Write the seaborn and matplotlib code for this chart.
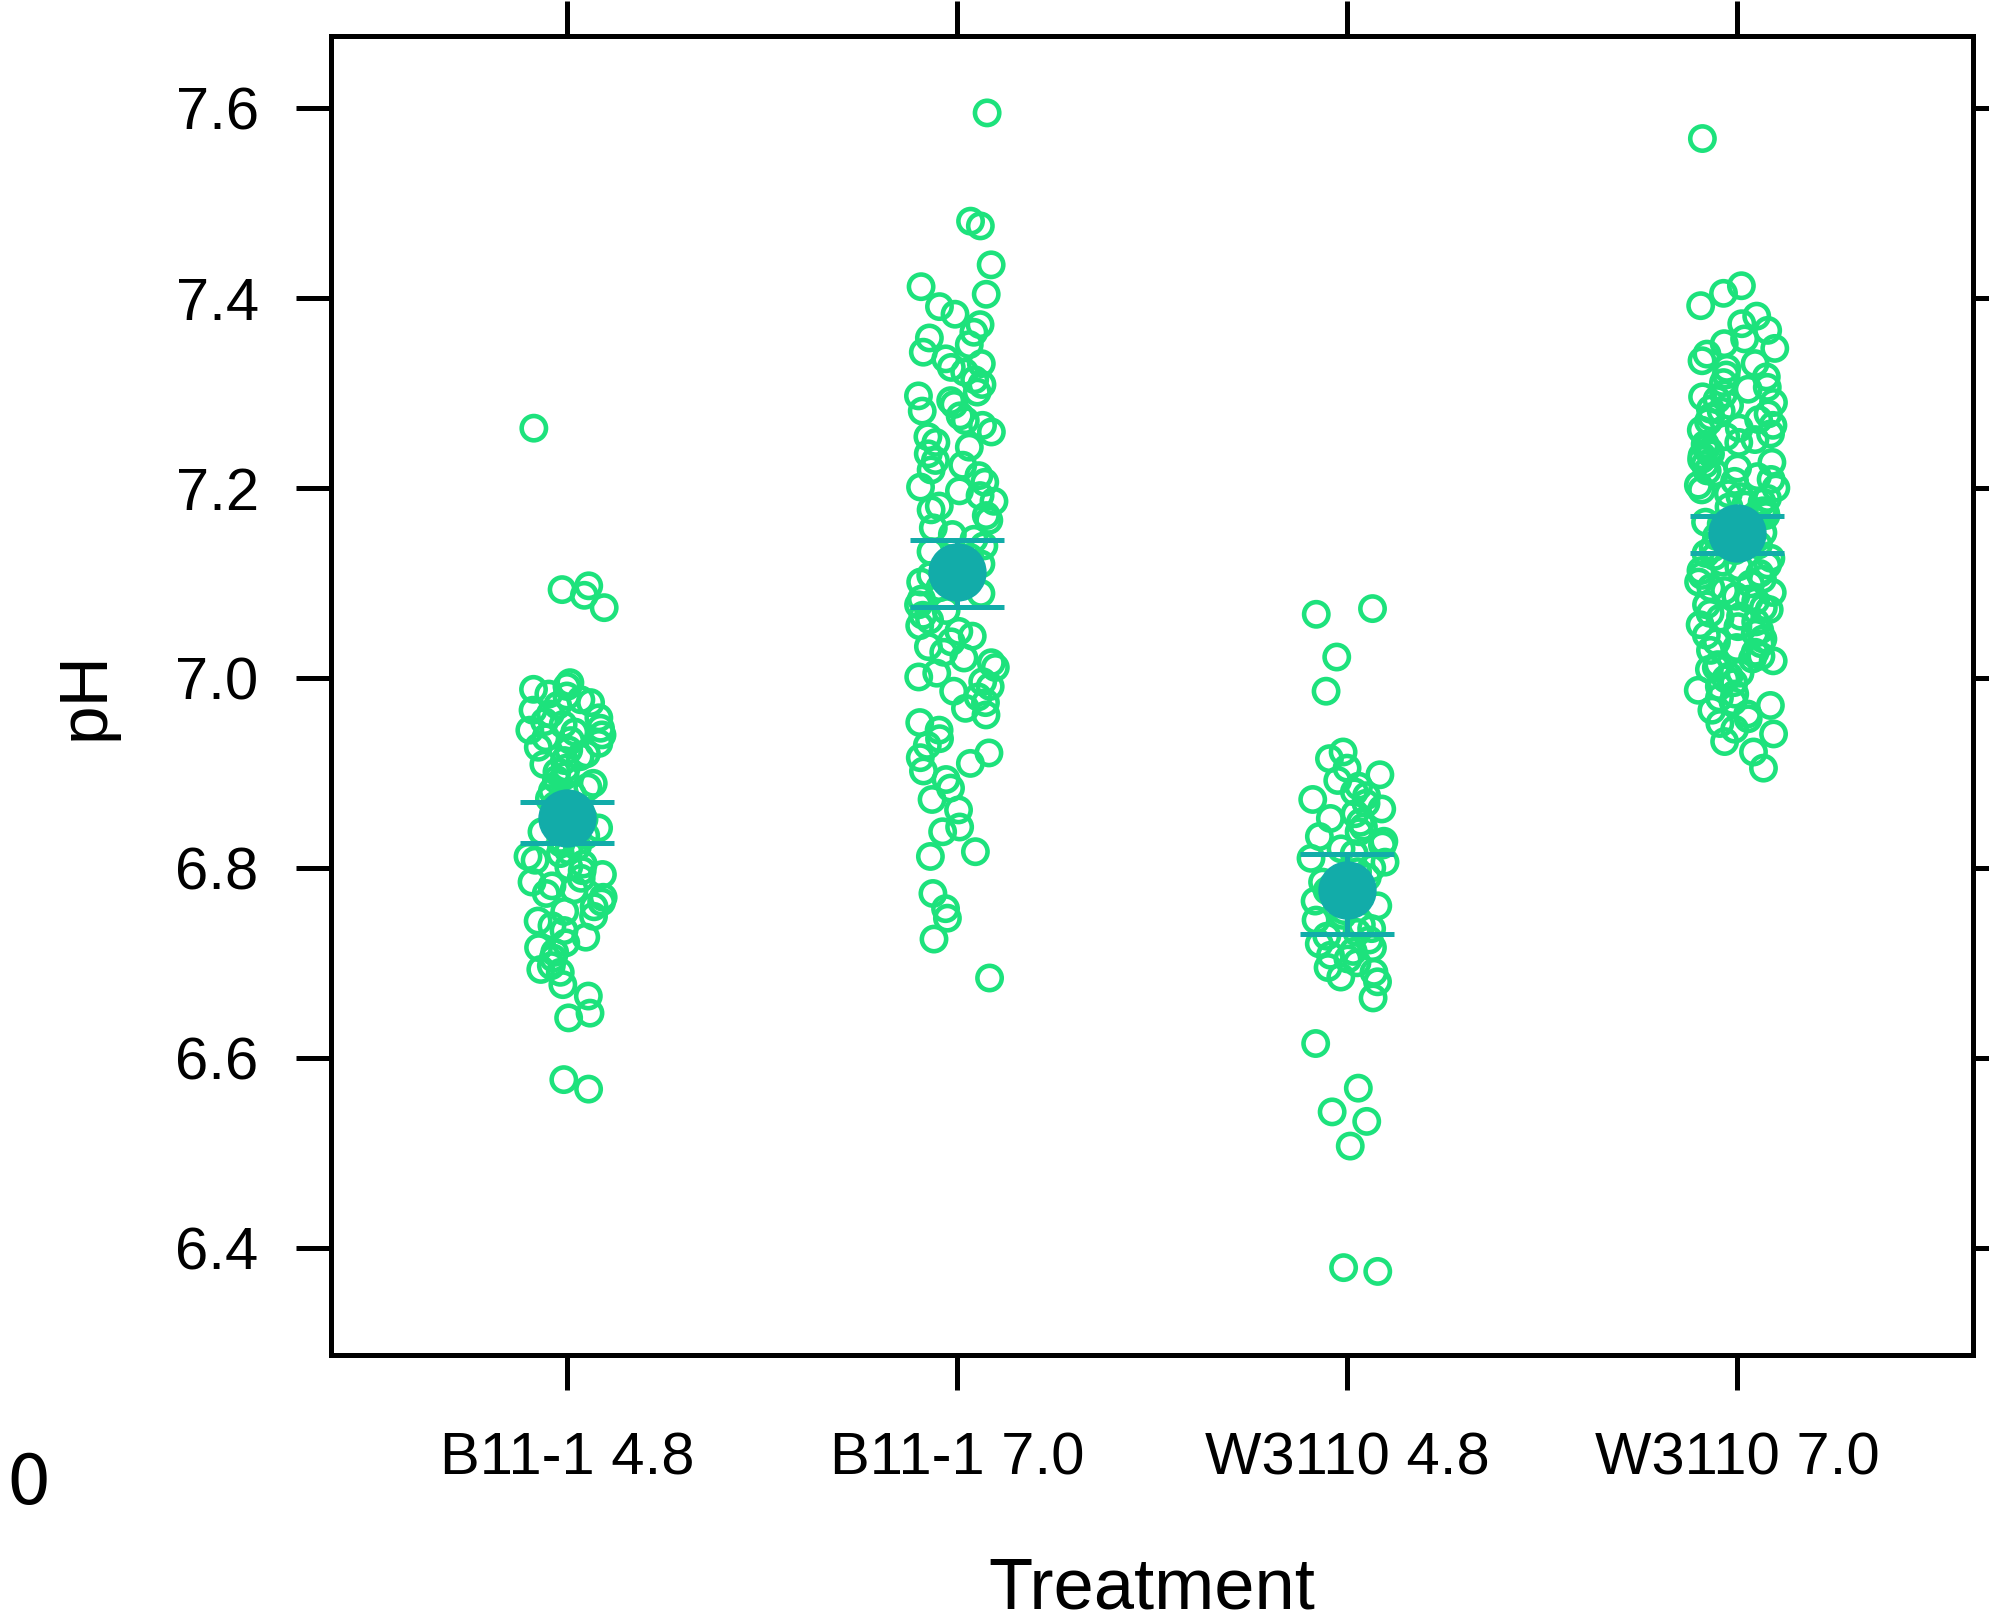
import numpy as np
import pandas as pd
import matplotlib
matplotlib.use("Agg")
import matplotlib.pyplot as plt
import seaborn as sns

# Data
treatments = ["B11-1 4.8", "B11-1 7.0", "W3110 4.8", "W3110 7.0"]

ph_b11_48 = [7.263, 7.097, 7.093, 7.087, 7.074,
             6.995, 6.991, 6.988, 6.983, 6.981, 6.977, 6.974, 6.971, 6.966, 6.962,
             6.958, 6.954, 6.951, 6.947, 6.945, 6.943, 6.940, 6.937, 6.934, 6.931,
             6.927, 6.924, 6.920, 6.917, 6.913, 6.909, 6.905, 6.901, 6.897, 6.893,
             6.889, 6.885, 6.881, 6.877, 6.873, 6.869, 6.866, 6.861, 6.858, 6.855,
             6.851, 6.846, 6.842, 6.838, 6.834, 6.830, 6.826, 6.822, 6.818, 6.815,
             6.812, 6.808, 6.804, 6.801, 6.797, 6.793, 6.789, 6.785, 6.781, 6.777,
             6.773, 6.769, 6.764, 6.759, 6.754, 6.749, 6.744, 6.739, 6.734, 6.727,
             6.721, 6.716, 6.711, 6.705,
             6.697, 6.693, 6.690, 6.677, 6.665, 6.647, 6.642, 6.577, 6.567]

ph_b11_70 = [7.595, 7.481, 7.476, 7.435, 7.412, 7.404, 7.391, 7.383, 7.372, 7.364,
             7.358, 7.351, 7.343, 7.336, 7.331, 7.327, 7.322, 7.314, 7.309, 7.301,
             7.297, 7.292, 7.288, 7.281, 7.276, 7.271, 7.266, 7.259, 7.254, 7.248,
             7.243, 7.236, 7.229, 7.224, 7.219, 7.213, 7.206, 7.201, 7.197, 7.192,
             7.186, 7.181, 7.177, 7.171, 7.166, 7.158, 7.151, 7.146, 7.139, 7.133,
             7.127, 7.120, 7.114, 7.108, 7.101, 7.095, 7.089, 7.083, 7.077, 7.071,
             7.066, 7.061, 7.055, 7.049, 7.044, 7.038, 7.033, 7.027, 7.021, 7.016,
             7.011, 7.005, 7.001, 6.996, 6.991, 6.986, 6.980, 6.974, 6.968, 6.961,
             6.953, 6.945, 6.936, 6.929, 6.921, 6.916, 6.910, 6.902, 6.893, 6.884,
             6.872, 6.861, 6.843, 6.838, 6.817, 6.812, 6.773, 6.757, 6.747, 6.725,
             6.684]

ph_w3110_48 = [7.073, 7.067, 7.022, 6.986, 6.922, 6.915, 6.905, 6.898, 6.892, 6.886,
               6.880, 6.876, 6.872, 6.868, 6.862, 6.857, 6.852, 6.848, 6.843, 6.838,
               6.833, 6.828, 6.824, 6.820, 6.815, 6.810, 6.806, 6.800, 6.796, 6.790,
               6.785, 6.780, 6.776, 6.770, 6.765, 6.760, 6.755, 6.750, 6.745, 6.740,
               6.736, 6.732, 6.728, 6.724, 6.720, 6.716, 6.712, 6.708, 6.704, 6.700,
               6.695, 6.690, 6.685, 6.680, 6.663, 6.615, 6.568, 6.543, 6.533, 6.507,
               6.379, 6.375]

ph_w3110_70 = [7.568, 7.413, 7.405, 7.392, 7.381, 7.373, 7.366, 7.357, 7.352, 7.347,
               7.341, 7.334, 7.331, 7.326, 7.319, 7.317, 7.311, 7.306, 7.304, 7.299,
               7.296, 7.293, 7.290, 7.287, 7.283, 7.281, 7.278, 7.275, 7.272, 7.270,
               7.266, 7.263, 7.261, 7.257, 7.254, 7.251, 7.248, 7.246, 7.242, 7.239,
               7.236, 7.234, 7.230, 7.227, 7.225, 7.221, 7.218, 7.216, 7.212, 7.209,
               7.207, 7.203, 7.200, 7.198, 7.194, 7.191, 7.189, 7.185, 7.182, 7.180,
               7.176, 7.173, 7.171, 7.167, 7.164, 7.162, 7.158, 7.155, 7.153, 7.149,
               7.146, 7.143, 7.140, 7.137, 7.134, 7.131, 7.128, 7.126, 7.122, 7.119,
               7.117, 7.113, 7.110, 7.108, 7.104, 7.101, 7.099, 7.095, 7.092, 7.090,
               7.086, 7.083, 7.081, 7.077, 7.074, 7.072, 7.068, 7.065, 7.063, 7.059,
               7.056, 7.054, 7.050, 7.047, 7.045, 7.041, 7.038, 7.036, 7.032, 7.029,
               7.027, 7.023, 7.020, 7.018, 7.014, 7.011, 7.009, 7.005, 7.002, 6.999,
               6.995, 6.991, 6.987, 6.983, 6.979, 6.975, 6.971, 6.966, 6.962, 6.957,
               6.952, 6.946, 6.941, 6.933, 6.922, 6.905]

mean_ph = [6.853, 7.112, 6.777, 7.153]
ci_low = [6.826, 7.075, 6.730, 7.132]
ci_high = [6.869, 7.145, 6.815, 7.171]
y_ticks = [6.4, 6.6, 6.8, 7.0, 7.2, 7.4, 7.6]

groups = [ph_b11_48, ph_b11_70, ph_w3110_48, ph_w3110_70]
df = pd.DataFrame({
    "Treatment": np.repeat(treatments, [len(g) for g in groups]),
    "pH": np.concatenate(groups),
})

green = "#1de27c"
teal = "#12aca9"

sns.set_style("white")
plt.rcParams["font.family"] = ["Liberation Sans", "DejaVu Sans"]
plt.rcParams["text.color"] = "black"
plt.rcParams["axes.labelcolor"] = "black"
plt.rcParams["xtick.color"] = "black"
plt.rcParams["ytick.color"] = "black"

fig = plt.figure(figsize=(19.9, 16.21), dpi=100)
ax = fig.add_axes([0.1663, 0.1641, 0.8251, 0.8137])

np.random.seed(7)
sns.stripplot(data=df, x="Treatment", y="pH", order=treatments, jitter=0.1,
              color=green, size=17.5, linewidth=3.3, ax=ax, zorder=2)
# hollow circles like the lattice plot
for coll in ax.collections:
    coll.set_facecolor("none")
    coll.set_edgecolor(green)

# group means with error bars
lo = np.array(mean_ph) - np.array(ci_low)
hi = np.array(ci_high) - np.array(mean_ph)
ax.errorbar(range(len(treatments)), mean_ph, yerr=[lo, hi], fmt="o", color=teal,
            ms=41, elinewidth=3.6, capsize=34, capthick=3.6, zorder=5)

ax.set_xlim(-0.605, 3.605)
ax.set_ylim(6.287, 7.676)
ax.set_yticks(y_ticks)
ax.set_yticklabels([f"{v:.1f}" for v in y_ticks])

for s in ax.spines.values():
    s.set_visible(True)
    s.set_linewidth(3.6)
    s.set_color("black")
ax.tick_params(axis="both", direction="out", length=25, width=3.6, color="black",
               labelcolor="black", bottom=True, left=True, top=True, right=True,
               labeltop=False, labelright=False, labelsize=43, pad=27)
ax.tick_params(axis="x", pad=30)

ax.set_xlabel("Treatment", fontsize=52, color="black")
ax.xaxis.set_label_coords(0.5, -0.153)
ax.set_ylabel("pH", fontsize=50, color="black")
ax.yaxis.set_label_coords(-0.130, 0.5)

fig.text(0.003, 0.084, "0", fontsize=50, family="DejaVu Sans", va="center",
         ha="left", color="black")

fig.savefig("out.png", dpi=100)
plt.close(fig)
